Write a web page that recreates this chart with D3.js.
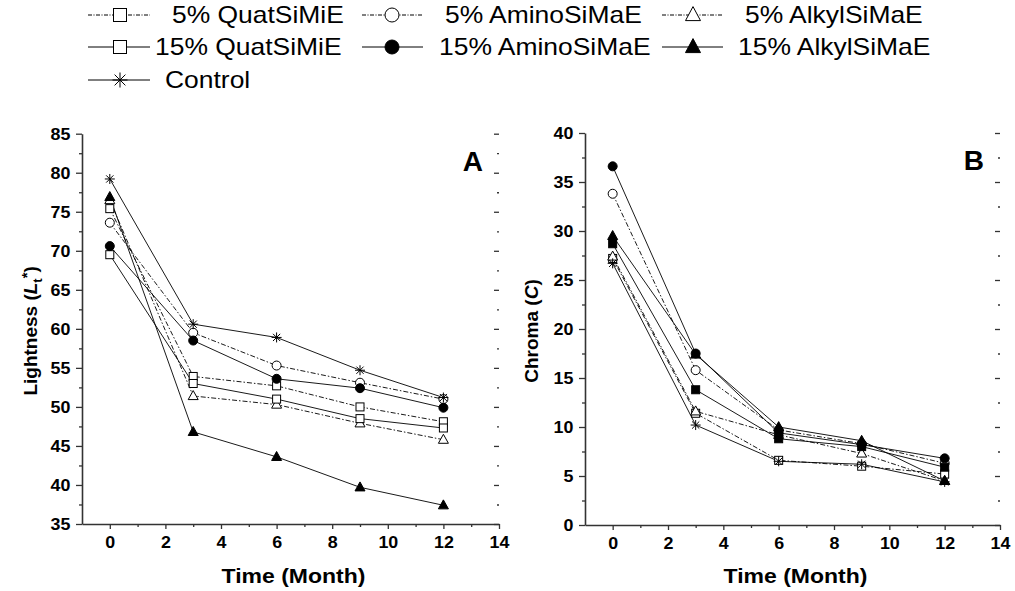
<!DOCTYPE html>
<html>
<head>
<meta charset="utf-8">
<script src="https://cdn.jsdelivr.net/npm/d3@7"></script>
<style>
  body { margin: 0; background: #fff; }
  svg { display: block; font-family: "Liberation Sans", Arial, sans-serif; }
</style>
</head>
<body>
<svg id="chart" width="1015" height="591"></svg>
<script>
// time points (months)
const months = [0, 3, 6, 9, 12];

const seriesNames = ["5% QuatSiMiE", "5% AminoSiMaE", "5% AlkylSiMaE",
                     "15% QuatSiMiE", "15% AminoSiMaE", "15% AlkylSiMaE", "Control"];

// panel A : lightness L*
const lightQuat5   = [75.4, 53.9, 52.7, 50.0, 48.1];
const lightAmino5  = [73.6, 59.5, 55.3, 53.1, 51.0];
const lightAlkyl5  = [76.5, 51.4, 50.3, 47.9, 45.8];
const lightQuat15  = [69.5, 53.0, 51.0, 48.5, 47.3];
const lightAmino15 = [70.6, 58.5, 53.6, 52.4, 49.9];
const lightAlkyl15 = [76.9, 46.8, 43.6, 39.7, 37.4];
const lightControl = [79.2, 60.6, 58.9, 54.7, 51.2];

// panel B : chroma C
const chromaQuat5   = [27.2, 11.4, 6.6, 6.0, 5.2];
const chromaAmino5  = [33.8, 15.8, 9.7, 8.3, 6.3];
const chromaAlkyl5  = [27.4, 11.6, 9.2, 7.3, 4.5];
const chromaQuat15  = [28.7, 13.8, 8.8, 8.0, 5.9];
const chromaAmino15 = [36.6, 17.5, 9.4, 8.2, 6.8];
const chromaAlkyl15 = [29.5, 17.4, 10.0, 8.6, 4.5];
const chromaControl = [26.7, 10.2, 6.5, 6.2, 4.4];

const xTicks = [0, 2, 4, 6, 8, 10, 12, 14];
const yTicksA = [35, 40, 45, 50, 55, 60, 65, 70, 75, 80, 85];
const yTicksB = [0, 5, 10, 15, 20, 25, 30, 35, 40];

// marker + line style per series (same order as seriesNames)
const styles = [
    {shape: "square",   fill: "#fff", dash: true},
    {shape: "circle",   fill: "#fff", dash: true},
    {shape: "triangle", fill: "#fff", dash: true},
    {shape: "square",   fill: "#fff", fillB: "#000", dash: false},
    {shape: "circle",   fill: "#000", dash: false},
    {shape: "triangle", fill: "#000", dash: false},
    {shape: "star",     fill: "none", dash: false}
];
const DASH = "5,2,1.5,2";

const svg = d3.select("#chart");

// helper: horizontal text stretched a bit like the original export
function stext(sel, x, y, str, size, weight, anchor, sx) {
    return sel.append("text")
        .attr("transform", "translate(" + x + "," + y + ") scale(" + sx + ",1)")
        .attr("text-anchor", anchor)
        .style("font-size", size + "px")
        .style("font-weight", weight)
        .text(str);
}

function drawMarker(g, shape, cx, cy, s, fill) {
    if (shape === "square") {
        g.append("rect").attr("x", cx - s / 2).attr("y", cy - s / 2)
            .attr("width", s).attr("height", s)
            .attr("fill", fill).attr("stroke", "#000").attr("stroke-width", 1);
    } else if (shape === "circle") {
        g.append("circle").attr("cx", cx).attr("cy", cy).attr("r", s / 2 + 0.5)
            .attr("fill", fill).attr("stroke", "#000").attr("stroke-width", 1);
    } else if (shape === "triangle") {
        var w = s + 2, h = s + 1;
        g.append("path")
            .attr("d", "M" + cx + "," + (cy - h * 0.6) + "L" + (cx + w / 2) + "," + (cy + h * 0.4)
                + "L" + (cx - w / 2) + "," + (cy + h * 0.4) + "Z")
            .attr("fill", fill).attr("stroke", "#000").attr("stroke-width", 1);
    } else {
        var r = s / 2 + 1, d = r * 0.72;
        var p = "M" + (cx - r) + "," + cy + "H" + (cx + r)
            + "M" + cx + "," + (cy - r) + "V" + (cy + r)
            + "M" + (cx - d) + "," + (cy - d) + "L" + (cx + d) + "," + (cy + d)
            + "M" + (cx - d) + "," + (cy + d) + "L" + (cx + d) + "," + (cy - d);
        g.append("path").attr("d", p).attr("stroke", "#000").attr("stroke-width", 1).attr("fill", "none");
    }
}

function panel(opts) {
    var g = svg.append("g");

    var x = d3.scaleLinear().domain([-1, 14]).range([opts.left, opts.right]);
    var y = d3.scaleLinear().domain(opts.yDomain).range([opts.bottom, opts.top]);

    var majors = opts.yTicks;
    var minors = majors.slice(0, -1).map(function(v, i) { return (v + majors[i + 1]) / 2; });

    // left axis
    g.append("g").attr("class", "yaxis")
        .attr("transform", "translate(" + opts.left + ",0)")
        .call(d3.axisLeft(y).tickValues(majors).tickSize(6).tickSizeOuter(0).tickPadding(5));
    g.append("g").attr("class", "minor")
        .attr("transform", "translate(" + opts.left + ",0)")
        .call(d3.axisLeft(y).tickValues(minors).tickSize(3).tickFormat(""));

    // right axis, ticks pointing in
    g.append("g").attr("class", "minor")
        .attr("transform", "translate(" + opts.right + ",0)")
        .call(d3.axisLeft(y).tickValues(majors).tickSize(5).tickSizeOuter(0).tickFormat(""));
    g.append("g").attr("class", "minor")
        .attr("transform", "translate(" + opts.right + ",0)")
        .call(d3.axisLeft(y).tickValues(minors).tickSize(2).tickFormat(""));

    // bottom axis
    g.append("g").attr("class", "xaxis")
        .attr("transform", "translate(0," + opts.bottom + ")")
        .call(d3.axisBottom(x).tickValues(xTicks).tickSize(5).tickSizeOuter(0).tickPadding(7));
    g.append("g").attr("class", "minor")
        .attr("transform", "translate(0," + opts.bottom + ")")
        .call(d3.axisBottom(x).tickValues(d3.range(1, 14, 2)).tickSize(3).tickFormat(""));

    g.selectAll(".minor .domain").remove();
    g.selectAll(".domain").attr("stroke", "#333").attr("stroke-width", 1.6);
    g.selectAll(".tick line").attr("stroke", "#333").attr("stroke-width", 1.3);
    g.selectAll(".yaxis text, .xaxis text")
        .style("font-size", "17px").style("font-weight", "bold")
        .style("font-family", "'Liberation Sans', Arial, sans-serif").attr("fill", "#000");
    g.selectAll(".yaxis text").attr("transform", "scale(1.05,1)");
    g.selectAll(".xaxis text").attr("transform", "scale(1.05,1)");

    // series
    var lineGen = d3.line().x(function(d) { return x(d[0]); }).y(function(d) { return y(d[1]); });
    opts.series.forEach(function(vals, i) {
        var pts = months.map(function(m, j) { return [m, vals[j]]; });
        g.append("path").datum(pts)
            .attr("d", lineGen)
            .attr("fill", "none")
            .attr("stroke", "#000")
            .attr("stroke-width", 0.9)
            .attr("stroke-dasharray", styles[i].dash ? DASH : null);
    });
    opts.series.forEach(function(vals, i) {
        var st = styles[i];
        var fill = (opts.isB && st.fillB) ? st.fillB : st.fill;
        var mg = g.append("g");
        months.forEach(function(m, j) {
            drawMarker(mg, st.shape, x(m), y(vals[j]), 8, fill);
        });
    });

    // panel letter
    g.append("text").attr("x", opts.right - 16).attr("y", opts.top + 37)
        .attr("text-anchor", "end")
        .style("font-size", "28px").style("font-weight", "bold").text(opts.letter);

    // x title
    stext(g, (opts.left + opts.right) / 2 + 3, 583, "Time (Month)", 20, "bold", "middle", 1.15);

    // y title
    var yt = g.append("text")
        .attr("transform", "translate(" + opts.yTitleX + "," + ((opts.top + opts.bottom) / 2 + 2) + ") rotate(-90)")
        .attr("text-anchor", "middle")
        .style("font-size", "19px").style("font-weight", "bold");
    opts.yTitle(yt);
}

panel({
    left: 82, right: 499, top: 133.7, bottom: 524,
    yDomain: [35, 85], yTicks: yTicksA, letter: "A", yTitleX: 37, isB: false,
    series: [lightQuat5, lightAmino5, lightAlkyl5, lightQuat15, lightAmino15, lightAlkyl15, lightControl],
    yTitle: function(t) {
        t.append("tspan").text("Lightness (");
        t.append("tspan").style("font-style", "italic").text("L");
        t.append("tspan").attr("dy", 5).style("font-size", "13px").text("t");
        t.append("tspan").attr("dy", -10).style("font-size", "15px").text("*");
        t.append("tspan").attr("dy", 5).text(")");
    }
});

panel({
    left: 585, right: 1000, top: 133, bottom: 525,
    yDomain: [0, 40], yTicks: yTicksB, letter: "B", yTitleX: 538, isB: true,
    series: [chromaQuat5, chromaAmino5, chromaAlkyl5, chromaQuat15, chromaAmino15, chromaAlkyl15, chromaControl],
    yTitle: function(t) {
        t.append("tspan").text("Chroma (");
        t.append("tspan").style("font-style", "italic").text("C");
        t.append("tspan").text(")");
    }
});

// legend
const legendLayout = [
    {row: 15, x1: 88,  x2: 150, sx: 120, tx: 172},
    {row: 15, x1: 362, x2: 423, sx: 392, tx: 445},
    {row: 15, x1: 662, x2: 723, sx: 693, tx: 745},
    {row: 47, x1: 88,  x2: 150, sx: 120, tx: 155},
    {row: 47, x1: 362, x2: 423, sx: 392, tx: 439},
    {row: 47, x1: 662, x2: 723, sx: 693, tx: 738},
    {row: 80, x1: 88,  x2: 150, sx: 120, tx: 165}
];
const leg = svg.append("g");
seriesNames.forEach(function(name, i) {
    var L = legendLayout[i], st = styles[i];
    leg.append("line").attr("x1", L.x1).attr("x2", L.x2).attr("y1", L.row).attr("y2", L.row)
        .attr("stroke", "#000").attr("stroke-width", 1)
        .attr("stroke-dasharray", st.dash ? "4,1.5,1,1.5" : null);
    drawMarker(leg, st.shape, L.sx, L.row, 13, st.fill);
    stext(leg, L.tx, L.row + 8, name, 23, "normal", "start", 1.15);
});
</script>
</body>
</html>
